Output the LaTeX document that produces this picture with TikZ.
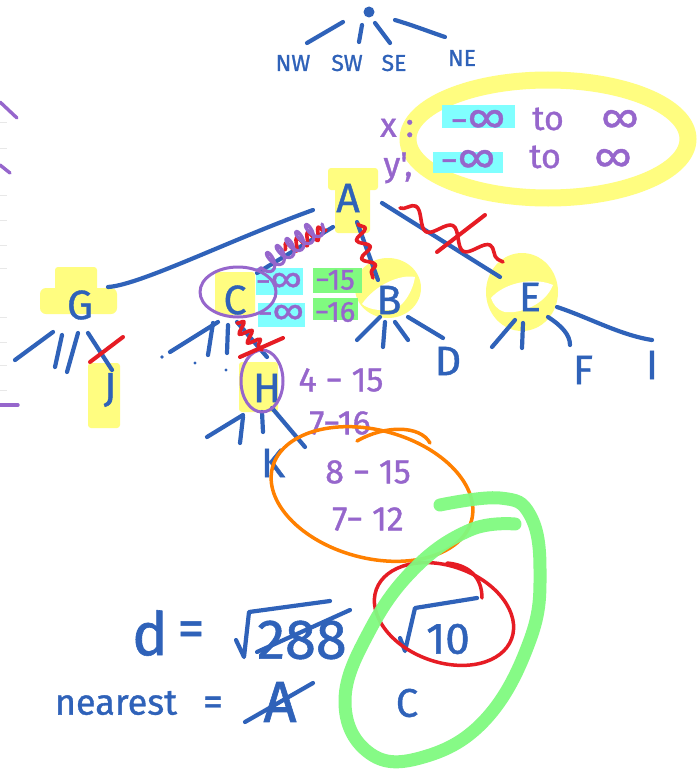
\documentclass[tikz,border=0pt]{standalone}
\usepackage{fontspec}
\newfontfamily\hand[FakeBold=1]{Fira Sans}
\usetikzlibrary{decorations.pathmorphing,calc}
\definecolor{pen}{RGB}{47,98,185}
\definecolor{ppl}{RGB}{150,102,204}
\definecolor{hyel}{RGB}{255,253,128}
\definecolor{hcyan}{RGB}{128,255,255}
\definecolor{hgreen}{RGB}{128,250,128}
\definecolor{rd}{RGB}{230,28,36}
\definecolor{org}{RGB}{255,128,0}
\definecolor{ruleline}{RGB}{232,232,232}
\newcommand{\infsym}[1]{{\fontsize{#1}{#1}\selectfont ∞}}
\begin{document}
\begin{tikzpicture}[x=1pt,y=-1pt,
  ink/.style={draw=pen,line width=4.2pt,line cap=round,line join=round},
  pinkink/.style={draw=ppl,line width=3.4pt,line cap=round,line join=round},
  redink/.style={draw=rd,line width=4pt,line cap=round,line join=round},
  wavy/.style 2 args={redink,line width=3.6pt,decorate,decoration={snake,amplitude=#1,segment length=#2}},
  letter/.style={text=pen,inner sep=0pt,font=\hand\fontsize{41}{41}\selectfont},
  dirlbl/.style={text=pen,inner sep=0pt,font=\hand\fontsize{23}{23}\selectfont},
  num/.style={text=ppl,inner sep=0pt,font=\hand\fontsize{34}{34}\selectfont},
  smallnum/.style={text=ppl,inner sep=0pt,font=\hand\fontsize{29}{29}\selectfont},
  big/.style={text=pen,inner sep=0pt,font=\hand\fontsize{54}{54}\selectfont},
  mid/.style={text=pen,inner sep=0pt,font=\hand\fontsize{40}{40}\selectfont},
]
\useasboundingbox (0,0) rectangle (696,773);
\fill[white] (0,0) rectangle (696,773);
% faint ruled ticks on the left edge
\foreach \yy in {123,148,195,220,245,268,317,342,365,390}
  \draw[ruleline,line width=1pt] (0,\yy) -- (7,\yy);
% left edge purple strokes
\draw[pinkink] (0,102) -- (17,118);
\draw[pinkink] (0,165) -- (10,173);
\draw[pinkink] (0,405) -- (18,405);

% ---------- highlights ----------
\draw[hyel,line width=17pt] (548,139) ellipse (140 and 59);
\fill[hyel,rounded corners=3pt] (328,168) rectangle (378,190);
\fill[hyel,rounded corners=3pt] (335,186) rectangle (370,233);
\fill[hyel,rounded corners=3pt] (55,267) rectangle (97,292);
\fill[hyel,rounded corners=6pt] (40,288) rectangle (117,314);
\fill[hyel,rounded corners=3pt] (88,363) rectangle (120,428);
\fill[hyel,rounded corners=3pt] (215,272) rectangle (255,315);
\fill[hyel,rounded corners=3pt] (239,362) rectangle (278,412);
% rings around B and E
\fill[hyel] (388,288) ellipse (33 and 30);
\fill[white] (362,304) .. controls (375,285) and (400,274) .. (415,277)
             .. controls (412,295) and (400,310) .. (390,310)
             .. controls (378,311) and (368,309) .. (362,304) -- cycle;
\fill[hyel] (522,292) ellipse (36 and 39);
\fill[white] (491,298) .. controls (505,282) and (535,277) .. (553,285)
             .. controls (545,305) and (520,314) .. (505,312)
             .. controls (497,310) and (493,304) .. (491,298) -- cycle;
% cyan / green highlights
\fill[hcyan] (442,105) rectangle (515,128);
\fill[hcyan] (433,152) rectangle (503,173);
\fill[hcyan] (256,268) rectangle (303,295);
\fill[hcyan] (258,303) rectangle (305,327);
\fill[hgreen] (313,268) rectangle (362,293);
\fill[hgreen] (313,298) rectangle (358,320);

% ---------- nodes ----------
\node[circle,fill=pen,inner sep=0pt,minimum size=11pt] (root) at (369,12) {};
\node[dirlbl] (nw) at (293,63) {NW};
\node[dirlbl] (sw) at (347,63) {SW};
\node[dirlbl] (se) at (394,63) {SE};
\node[dirlbl] (ne) at (462,58) {NE};

\node[letter] (A) at (348,198) {A};
\node[letter] (G) at (80,305) {G};
\node[letter] (J) at (110,390) {J};
\node[letter] (C) at (235,300) {C};
\node[letter] (H) at (267,388) {H};
\node[letter] (K) at (273,463) {K};
\node[letter] (B) at (389,300) {B};
\node[letter] (D) at (448,361) {D};
\node[letter] (E) at (530,297) {E};
\node[letter] (F) at (583,370) {F};
\node[letter] (I) at (652,365) {I};

% purple annotations
\node[num] (xl) at (397,128) {x :};
\node[num] (xlo) at (478,121) {−\infsym{42}};
\node[num] (xto) at (548,119) {to};
\node[num] (xhi) at (620,121) {\infsym{42}};
\node[num] (yl) at (398,168) {y',};
\node[num] (ylo) at (468,161) {−\infsym{42}};
\node[num] (yto) at (545,157) {to};
\node[num] (yhi) at (613,160) {\infsym{42}};
\node[smallnum] (cx1) at (279,282) {−\infsym{35}};
\node[smallnum] (cx2) at (335,280) {−15};
\node[smallnum] (cy1) at (281,314) {−\infsym{35}};
\node[smallnum] (cy2) at (335,312) {−16};
\node[num] (hx) at (341,380) {4 − 15};
\node[num] (hy) at (340,423) {7−16};
\node[num] (kx) at (368,472) {8 − 15};
\node[num] (ky) at (368,519) {7− 12};

% bottom formulas
\node[big,font=\hand\fontsize{60}{60}\selectfont] (dd) at (150,633) {d};
\node[big] (deq) at (191,634) {=};
\node[big,font=\hand\fontsize{56}{56}\selectfont] (d288) at (302,640) {288};
\node[mid,font=\hand\fontsize{44}{44}\selectfont] (d10) at (448,639) {10};
\node[mid,font=\hand\fontsize{36}{36}\selectfont] (nr) at (116,703) {nearest};
\node[mid] (neq) at (213,706) {=};
\node[big,font=\hand\fontsize{58}{58}\selectfont] (nA) at (280,702) {A};
\node[mid] (nC) at (407,703) {C};

% ---------- connectors ----------
\draw[ink] ($(root)+(-26,10)$) -- ($(nw)+(14,-20)$);
\draw[ink] ($(root)+(-7,13)$) -- ($(sw)+(12,-21)$);
\draw[ink] ($(root)+(6,11)$) -- ($(se)+(-4,-20)$);
\draw[ink] ($(root)+(26,8)$) .. controls (415,26) and (430,32) .. ($(ne)+(-17,-21)$);

\draw[ink] ($(A)+(-35,12)$) .. controls (230,240) and (140,285) .. ($(G)+(28,-18)$);
\draw[ink] ($(A)+(-15,29)$) -- ($(C)+(22,-27)$);
\draw[ink] ($(A)+(9,24)$) -- ($(B)+(-11,-20)$);
\draw[ink] ($(A)+(34,5)$) -- ($(E)+(-30,-20)$);

\coordinate (g1) at (15,360);
\coordinate (g2) at (55,367);
\coordinate (g3) at (67,372);
\draw[ink] ($(G)+(-27,27)$) -- (g1);
\draw[ink] ($(G)+(-18,30)$) -- (g2);
\draw[ink] ($(G)+(-2,28)$) -- (g3);
\draw[ink] ($(G)+(8,28)$) -- ($(J)+(2,-20)$);

\coordinate (c1) at (170,352);
\coordinate (c2) at (208,355);
\coordinate (c3) at (227,353);
\draw[ink] ($(C)+(-17,22)$) -- (c1);
\draw[ink] ($(C)+(-22,23)$) -- (c2);
\draw[ink] ($(C)+(-7,25)$) -- (c3);
\draw[ink] ($(C)+(2,22)$) -- ($(H)+(0,-31)$);
\fill[pen] (162,357) circle (1.8) (195,363) circle (1.6) (226,370) circle (1.6);

\coordinate (h1) at (207,437);
\coordinate (h2) at (240,443);
\coordinate (h4) at (305,447);
\draw[ink] ($(H)+(-24,27)$) -- (h1);
\draw[ink] ($(H)+(-24,29)$) -- (h2);
\draw[ink] ($(H)+(-5,24)$) -- ($(K)+(-10,-31)$);
\draw[ink] ($(H)+(5,20)$) -- (h4);

\coordinate (b1) at (357,340);
\coordinate (b2) at (383,347);
\coordinate (b3) at (408,340);
\draw[ink] ($(B)+(-9,17)$) -- (b1);
\draw[ink] ($(B)+(-4,22)$) -- (b2);
\draw[ink] ($(B)+(6,22)$) -- (b3);
\draw[ink] ($(B)+(19,17)$) -- ($(D)+(-5,-23)$);

\coordinate (e1) at (492,347);
\coordinate (e2) at (522,348);
\draw[ink] ($(E)+(-15,23)$) -- (e1);
\draw[ink] ($(E)+(-7,26)$) -- (e2);
\draw[ink] ($(E)+(18,20)$) .. controls (562,326) and (570,335) .. ($(F)+(-13,-25)$);
\draw[ink] ($(E)+(27,10)$) .. controls (590,318) and (620,335) .. ($(I)+(0,-25)$);

% ---------- circles and crossings ----------
\draw[pinkink,line width=3pt] (238,292) ellipse (38 and 25);
\draw[pinkink,line width=3pt] (262,381) ellipse (21 and 31);

\draw[wavy={6pt}{12pt}] (285,250) -- (326,230);
\draw[pinkink,line width=3.2pt,decorate,decoration={coil,amplitude=9pt,segment length=12pt}] (322,224) -- (258,270);
\draw[wavy={6pt}{19pt}] (358,224) -- (373,278);
\draw[wavy={9pt}{42pt}] (400,208) -- (503,262);
\draw[redink] (437,252) -- (485,215);
\draw[wavy={6pt}{12pt}] (237,323) -- (262,350);
\draw[redink] (240,357) -- (283,338);
\draw[redink] (90,362) -- (123,337);

% orange ellipse
\draw[org,line width=3.5pt] (372,494) [rotate around={-15:(372,494)}] ellipse (103 and 64);
\draw[org,line width=3.5pt,line cap=round] (357,441) .. controls (385,425) and (420,425) .. (430,443);

% radicals and strike
\draw[ink] (236,640) -- (244,657) -- (249,612) -- (330,601);
\draw[ink] (257,652) -- (350,610);
\draw[ink] (400,638) -- (405,651) -- (415,608) -- (477,598);
\draw[ink] (245,722) -- (313,683);

% red ellipse with hook
\draw[redink,line width=3.5pt] (444,614) [rotate around={-20:(444,614)}] ellipse (72 and 48);
\draw[redink,line width=3.5pt] (447,563) .. controls (470,565) and (482,578) .. (482,598);

% green loop
\draw[hgreen,line width=13pt,line cap=round,opacity=0.95]
  plot[smooth,tension=0.7] coordinates {(440,505) (500,498) (530,515) (540,570) (530,640)
  (485,720) (420,758) (368,752) (345,700) (370,630) (415,568) (470,530) (515,524)};
\end{tikzpicture}
\end{document}
